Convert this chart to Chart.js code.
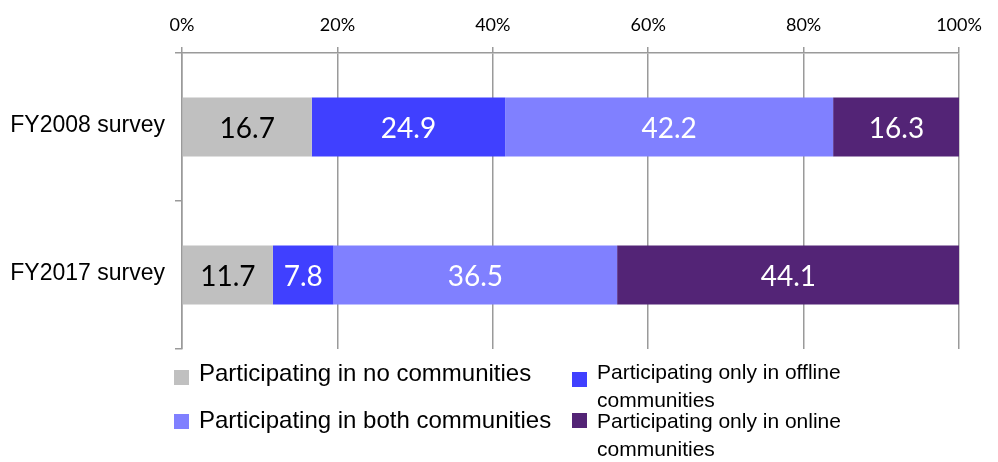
<!DOCTYPE html>
<html>
<head>
<meta charset="utf-8">
<script src="https://cdn.jsdelivr.net/npm/chart.js@4/dist/chart.umd.min.js"></script>
<style>
  body { margin: 0; background: #fff; overflow: hidden; }
  #wrap { position: relative; width: 998px; height: 462px; }
  #wrap canvas { display: block; }
  .box { position: absolute; width: 15px; height: 15px; }
  .txt { position: absolute; white-space: nowrap; font-family: "Liberation Sans", Arial, sans-serif; color: #000; }
  .big { font-size: 24px; line-height: 24px; }
  .small { font-size: 21px; line-height: 28px; }
</style>
</head>
<body>
<div id="wrap">
  <canvas id="chart"></canvas>
  <span class="box" style="left:174px; top:370px; background:#C0C0C0"></span>
  <div class="txt big" style="left:199px; top:361px;">Participating in no communities</div>
  <span class="box" style="left:174px; top:414px; background:#8080FF"></span>
  <div class="txt big" style="left:199px; top:408px;">Participating in both communities</div>
  <span class="box" style="left:572px; top:372px; background:#4040FF"></span>
  <div class="txt small" style="left:597px; top:358px;">Participating only in offline<br>communities</div>
  <span class="box" style="left:572px; top:413px; background:#532476"></span>
  <div class="txt small" style="left:597px; top:407px;">Participating only in online<br>communities</div>
</div>
<script>
// survey rows and shares (%)
const surveys = ["FY2008 survey", "FY2017 survey"];
const noCommunities = [16.7, 11.7];
const offlineOnly = [24.9, 7.8];
const bothCommunities = [42.2, 36.5];
const onlineOnly = [16.3, 44.1];
const xTicks = [0, 20, 40, 60, 80, 100];

// writes each value in the middle of its segment
const segmentLabels = {
    id: "segmentLabels",
    afterDatasetsDraw(chart) {
        const ctx = chart.ctx;
        ctx.save();
        ctx.font = "28px Lato, sans-serif";
        ctx.textAlign = "center";
        ctx.textBaseline = "middle";
        chart.data.datasets.forEach((ds, i) => {
            const meta = chart.getDatasetMeta(i);
            meta.data.forEach((bar, j) => {
                const p = bar.getCenterPoint();
                ctx.fillStyle = ds.labelColor;
                ctx.fillText(ds.data[j].toFixed(1), p.x, p.y + 2);
            });
        });
        ctx.restore();
    }
};

const gridGray = "#9a9a9a";

new Chart(document.getElementById("chart"), {
    type: "bar",
    data: {
        labels: surveys,
        datasets: [
            { label: "Participating in no communities", data: noCommunities, backgroundColor: "#C0C0C0", labelColor: "#000" },
            { label: "Participating only in offline communities", data: offlineOnly, backgroundColor: "#4040FF", labelColor: "#fff" },
            { label: "Participating in both communities", data: bothCommunities, backgroundColor: "#8080FF", labelColor: "#fff" },
            { label: "Participating only in online communities", data: onlineOnly, backgroundColor: "#532476", labelColor: "#fff" }
        ]
    },
    options: {
        indexAxis: "y",
        responsive: true,
        maintainAspectRatio: false,
        animation: false,
        layout: { padding: { left: 0, right: 39, top: 0, bottom: 113 } },
        datasets: { bar: { categoryPercentage: 0.4, barPercentage: 1, borderWidth: 0 } },
        plugins: { legend: { display: false }, tooltip: { enabled: false } },
        scales: {
            x: {
                position: "top",
                stacked: true,
                min: 0,
                max: 100,
                afterBuildTicks(scale) { scale.ticks = xTicks.map(v => ({ value: v })); },
                afterFit(scale) {
                    scale.height = 53;
                    // the end labels may hang past the plot edges
                    scale.paddingLeft = 0;
                    scale.paddingRight = 0;
                },
                border: { color: gridGray, width: 1.5 },
                grid: { color: gridGray, lineWidth: 1.5, tickLength: 6 },
                ticks: {
                    padding: 11,
                    color: "#000",
                    font: { family: "Lato, sans-serif", size: 18 },
                    callback: v => v + "%"
                }
            },
            y: {
                stacked: true,
                afterFit(scale) { scale.width = 182; },
                border: { color: gridGray, width: 1.5 },
                grid: { drawOnChartArea: false, color: gridGray, lineWidth: 1.5, tickLength: 7, offset: true },
                ticks: {
                    padding: 10,
                    labelOffset: -1,
                    color: "#000",
                    font: { family: "'Liberation Sans', Arial, sans-serif", size: 23 }
                }
            }
        }
    },
    plugins: [segmentLabels]
});
</script>
</body>
</html>
